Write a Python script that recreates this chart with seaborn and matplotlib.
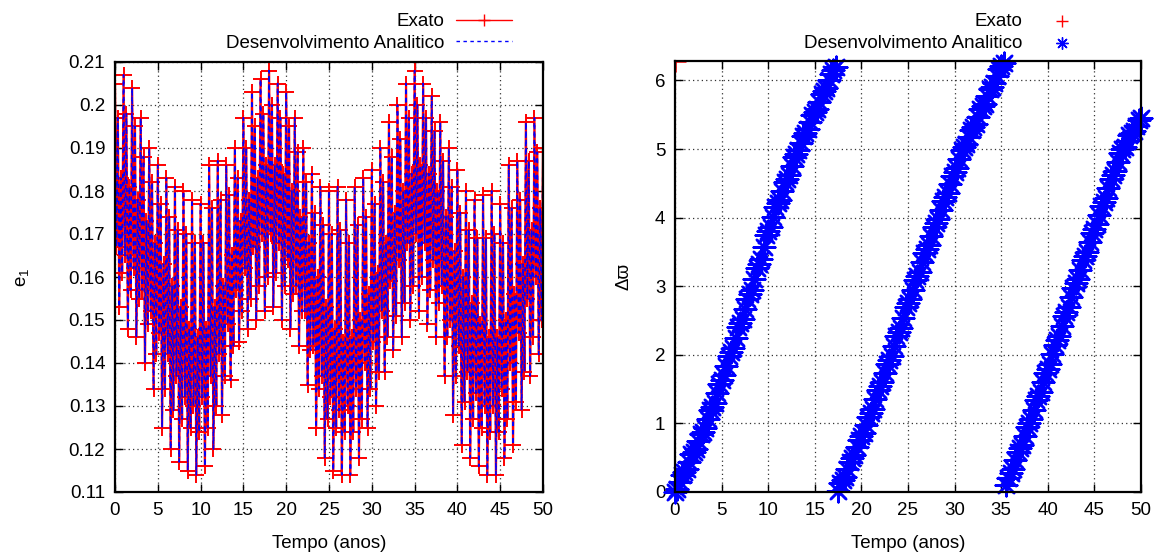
import numpy as np
import pandas as pd
import matplotlib
matplotlib.use("Agg")
import matplotlib.pyplot as plt
import seaborn as sns
from matplotlib.ticker import FuncFormatter

# ---------------- data ----------------
# e1 sampled every 1/6 year, 0..50 anos
e1_exato = [
    0.205, 0.167, 0.197, 0.153, 0.183, 0.161,
    0.207, 0.165, 0.198, 0.148, 0.181, 0.157,
    0.204, 0.162, 0.195, 0.146, 0.178, 0.155,
    0.197, 0.157, 0.188, 0.140, 0.173, 0.149,
    0.190, 0.152, 0.182, 0.134, 0.168, 0.142,
    0.186, 0.147, 0.177, 0.125, 0.163, 0.134,
    0.183, 0.142, 0.174, 0.120, 0.158, 0.129,
    0.181, 0.137, 0.171, 0.117, 0.153, 0.127,
    0.180, 0.132, 0.170, 0.115, 0.148, 0.125,
    0.178, 0.130, 0.168, 0.114, 0.146, 0.124,
    0.177, 0.132, 0.168, 0.116, 0.148, 0.125,
    0.186, 0.137, 0.176, 0.120, 0.153, 0.130,
    0.187, 0.142, 0.178, 0.128, 0.158, 0.137,
    0.186, 0.149, 0.179, 0.136, 0.165, 0.144,
    0.190, 0.157, 0.183, 0.145, 0.173, 0.152,
    0.197, 0.162, 0.190, 0.148, 0.178, 0.155,
    0.203, 0.167, 0.195, 0.150, 0.183, 0.158,
    0.206, 0.170, 0.198, 0.152, 0.186, 0.160,
    0.208, 0.170, 0.200, 0.153, 0.186, 0.161,
    0.205, 0.168, 0.197, 0.150, 0.184, 0.158,
    0.203, 0.164, 0.195, 0.148, 0.180, 0.156,
    0.197, 0.158, 0.189, 0.144, 0.174, 0.152,
    0.190, 0.152, 0.182, 0.135, 0.168, 0.143,
    0.184, 0.144, 0.175, 0.125, 0.160, 0.134,
    0.181, 0.137, 0.172, 0.118, 0.153, 0.127,
    0.180, 0.132, 0.170, 0.115, 0.148, 0.125,
    0.181, 0.129, 0.171, 0.114, 0.145, 0.124,
    0.178, 0.130, 0.168, 0.114, 0.146, 0.124,
    0.181, 0.134, 0.172, 0.118, 0.150, 0.127,
    0.183, 0.140, 0.174, 0.125, 0.156, 0.134,
    0.185, 0.145, 0.177, 0.130, 0.161, 0.138,
    0.190, 0.152, 0.182, 0.138, 0.168, 0.146,
    0.196, 0.159, 0.188, 0.143, 0.175, 0.151,
    0.200, 0.164, 0.192, 0.146, 0.180, 0.154,
    0.205, 0.168, 0.197, 0.150, 0.184, 0.158,
    0.208, 0.170, 0.200, 0.152, 0.186, 0.160,
    0.205, 0.168, 0.197, 0.149, 0.184, 0.157,
    0.202, 0.164, 0.194, 0.146, 0.180, 0.154,
    0.196, 0.158, 0.187, 0.137, 0.174, 0.146,
    0.190, 0.150, 0.181, 0.128, 0.166, 0.137,
    0.185, 0.144, 0.175, 0.121, 0.160, 0.131,
    0.180, 0.138, 0.171, 0.118, 0.154, 0.127,
    0.178, 0.133, 0.169, 0.116, 0.149, 0.125,
    0.179, 0.130, 0.169, 0.114, 0.146, 0.124,
    0.180, 0.130, 0.170, 0.114, 0.146, 0.124,
    0.177, 0.134, 0.168, 0.118, 0.150, 0.127,
    0.186, 0.140, 0.176, 0.121, 0.156, 0.131,
    0.187, 0.147, 0.178, 0.129, 0.163, 0.138,
    0.196, 0.155, 0.187, 0.137, 0.171, 0.146,
    0.197, 0.160, 0.189, 0.142, 0.176, 0.150,
    0.190,
]
e1_analitico = list(e1_exato)
e1_dt = 1.0 / 6.0

# delta varpi (wrapped to 0..2pi) sampled every 0.25 year
dw_exato = [
    6.28, 0.04, 0.15, 0.25,   0.29, 0.34, 0.44, 0.55,   0.59, 0.63, 0.74, 0.84,
    0.88, 0.93, 1.06, 1.19,   1.24, 1.30, 1.44, 1.58,   1.64, 1.70, 1.84, 1.98,
    2.04, 2.10, 2.25, 2.40,   2.46, 2.52, 2.67, 2.82,   2.88, 2.95, 3.11, 3.26,
    3.33, 3.40, 3.57, 3.74,   3.81, 3.87, 4.01, 4.15,   4.21, 4.26, 4.39, 4.52,
    4.57, 4.62, 4.75, 4.88,   4.93, 4.98, 5.09, 5.19,   5.24, 5.29, 5.39, 5.50,
    5.54, 5.59, 5.69, 5.80,   5.84, 5.89, 6.00, 6.10,   6.15, 6.20, 0.02, 0.13,
    0.17, 0.22, 0.33, 0.44,   0.49, 0.54, 0.65, 0.76,   0.81, 0.86, 0.98, 1.10,
    1.15, 1.21, 1.35, 1.48,   1.54, 1.60, 1.73, 1.86,   1.92, 1.98, 2.13, 2.27,
    2.33, 2.39, 2.54, 2.69,   2.75, 2.81, 2.95, 3.09,   3.15, 3.21, 3.35, 3.48,
    3.54, 3.60, 3.73, 3.86,   3.92, 3.98, 4.11, 4.24,   4.30, 4.36, 4.49, 4.61,
    4.67, 4.72, 4.85, 4.98,   5.03, 5.07, 5.18, 5.28,   5.32, 5.37, 5.47, 5.58,
    5.62, 5.66, 5.77, 5.87,   5.91, 5.96, 6.06, 6.17,   6.21, 6.26, 0.10, 0.21,
    0.27, 0.33, 0.46, 0.58,   0.64, 0.69, 0.82, 0.95,   1.00, 1.06, 1.20, 1.34,
    1.40, 1.46, 1.60, 1.74,   1.80, 1.86, 2.01, 2.15,   2.21, 2.27, 2.42, 2.57,
    2.63, 2.69, 2.84, 2.98,   3.04, 3.10, 3.24, 3.38,   3.44, 3.50, 3.64, 3.78,
    3.84, 3.90, 4.04, 4.17,   4.23, 4.29, 4.43, 4.56,   4.62, 4.68, 4.81, 4.94,
    5.00, 5.03, 5.12, 5.20,   5.23, 5.26, 5.34, 5.42,
    5.45,
]
dw_analitico = [0.0] + dw_exato[1:]
dw_dt = 0.25

x_ticks = [0, 5, 10, 15, 20, 25, 30, 35, 40, 45, 50]
e1_ticks = [0.11, 0.12, 0.13, 0.14, 0.15, 0.16, 0.17, 0.18, 0.19, 0.20, 0.21]
dw_ticks = [0, 1, 2, 3, 4, 5, 6]

t_e1 = np.arange(len(e1_exato)) * e1_dt
t_dw = np.arange(len(dw_exato)) * dw_dt
df_e1 = pd.DataFrame({"t": t_e1, "exato": e1_exato, "analitico": e1_analitico})
df_dw = pd.DataFrame({"t": t_dw, "exato": dw_exato, "analitico": dw_analitico})

# ---------------- style ----------------
sns.set_theme(style="ticks")
FS = 13.5
plt.rcParams["font.family"] = ["Liberation Sans", "DejaVu Sans"]
plt.rcParams["mathtext.fontset"] = "custom"
plt.rcParams["mathtext.rm"] = "Liberation Sans"
plt.rcParams["font.size"] = FS
plt.rcParams["text.color"] = "black"
plt.rcParams["axes.labelcolor"] = "black"
plt.rcParams["xtick.color"] = "black"
plt.rcParams["ytick.color"] = "black"

fig = plt.figure(figsize=(11.66, 5.6), dpi=100)
ax1 = fig.add_axes([115 / 1166, 68 / 560, 428 / 1166, 430 / 560])
ax2 = fig.add_axes([675 / 1166, 68 / 560, 466 / 1166, 431 / 560])

RED = "#ff0000"
BLUE = "#0000ff"

# left panel
sns.lineplot(data=df_e1, x="t", y="exato", ax=ax1, color=RED, linewidth=1.6,
             marker="+", markersize=11, markeredgewidth=1.4, markeredgecolor=RED,
             estimator=None, sort=False, label="Exato")
sns.lineplot(data=df_e1, x="t", y="analitico", ax=ax1, color=BLUE, linewidth=1.2,
             linestyle=(0, (2.5, 2.5)), estimator=None, sort=False,
             label="Desenvolvimento Analitico")

# right panel
sns.scatterplot(data=df_dw, x="t", y="exato", ax=ax2, color=RED, marker="+",
                s=240, linewidth=1.8, label="Exato", clip_on=True, zorder=3)
sns.scatterplot(data=df_dw, x="t", y="analitico", ax=ax2, color=BLUE,
                marker=(8, 2, 0), s=240, linewidth=1.8,
                label="Desenvolvimento Analitico", clip_on=False, zorder=4)


def style_axis(ax, yticks, ylim, fmt):
    ax.set_xlim(0, 50)
    ax.set_ylim(*ylim)
    ax.set_xticks(x_ticks)
    ax.set_yticks(yticks)
    ax.yaxis.set_major_formatter(FuncFormatter(fmt))
    ax.xaxis.set_major_formatter(FuncFormatter(lambda v, p: "%g" % v))
    ax.tick_params(direction="in", length=6, width=1.0, top=True, right=True,
                   labelsize=FS, pad=7)
    for s in ax.spines.values():
        s.set_linewidth(1.6)
        s.set_color("black")
        s.set_zorder(10)
    ax.grid(True, color="#333333", linestyle=(0, (1, 2.5)), linewidth=0.9)
    ax.set_axisbelow(True)
    ax.set_xlabel("Tempo (anos)", fontsize=FS, labelpad=12)


style_axis(ax1, e1_ticks, (0.11, 0.21), lambda v, p: "%g" % round(v, 3))
style_axis(ax2, dw_ticks, (0, 2 * np.pi), lambda v, p: "%g" % v)
ax1.set_ylabel(r"$\mathregular{e_1}$", fontsize=FS, labelpad=27)
ax2.set_ylabel("Δϖ", fontsize=FS, labelpad=16)


def legend(ax, anchor, hl, msize):
    leg = ax.legend(loc="lower right", bbox_to_anchor=anchor,
                    bbox_transform=fig.transFigure, frameon=False,
                    markerfirst=False, handlelength=hl, handletextpad=0.6,
                    borderpad=0, borderaxespad=0, labelspacing=0.25,
                    fontsize=FS, scatterpoints=1, numpoints=1)
    for h in leg.legend_handles:
        if msize is not None:
            h.set_sizes([msize])
            h.set_linewidth(1.0)
        else:
            h.set_linewidth(1.0)
            h.set_markersize(8)
            h.set_markeredgewidth(1.0)
    return leg


legend(ax1, (512 / 1166, 1 - 52 / 560), 3.0, None)
legend(ax2, (1090 / 1166, 1 - 52 / 560), 3.0, 70)

fig.savefig("out.png", dpi=100)
